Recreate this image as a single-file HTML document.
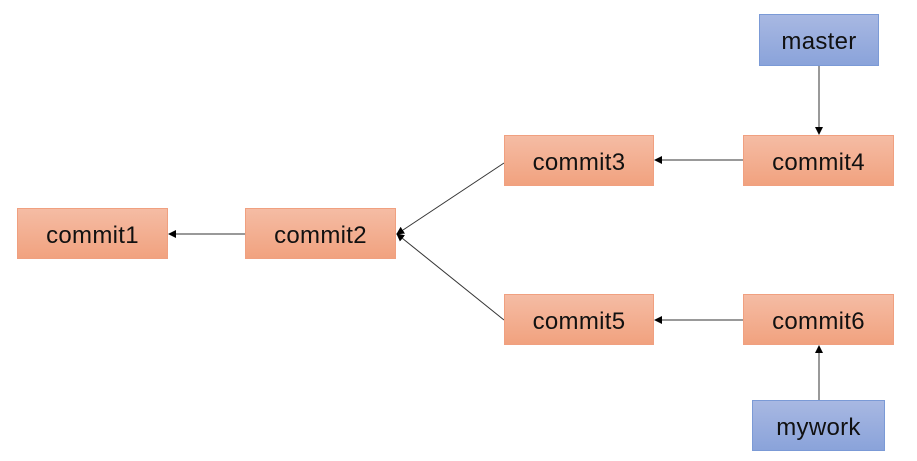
<!DOCTYPE html>
<html><head><meta charset="utf-8"><style>
body{margin:0;width:917px;height:461px;background:#fff;position:relative;overflow:hidden;font-family:"Liberation Sans",sans-serif}
.b{position:absolute;box-sizing:border-box;display:flex;align-items:center;justify-content:center;font-size:24px;color:#111;padding-top:4px;letter-spacing:0.3px}
.o{background:linear-gradient(#f5bca4,#f1a27f);border:1px solid #f0a080}
.u{background:linear-gradient(#a8b8e2,#8aa3da);border:1px solid #7b9ad6}
svg{position:absolute;left:0;top:0}
</style></head><body>
<svg width="917" height="461">
<defs><marker id="a" markerWidth="8" markerHeight="8" refX="7" refY="4" orient="auto" markerUnits="userSpaceOnUse"><path d="M0,0L8,4L0,8z" fill="#000"/></marker></defs>
<g stroke="#333" stroke-width="1" fill="none" marker-end="url(#a)">
<line x1="245" y1="234" x2="169" y2="234"/>
<line x1="504" y1="163" x2="397" y2="234"/>
<line x1="504" y1="320" x2="397" y2="234"/>
<line x1="743" y1="160" x2="655" y2="160"/>
<line x1="743" y1="320" x2="655" y2="320"/>
<line x1="819" y1="66" x2="819" y2="134"/>
<line x1="819" y1="400" x2="819" y2="346"/>
</g></svg>
<div class="b o" style="left:17px;top:208px;width:151px;height:51px">commit1</div>
<div class="b o" style="left:245px;top:208px;width:151px;height:51px">commit2</div>
<div class="b o" style="left:504px;top:135px;width:150px;height:51px">commit3</div>
<div class="b o" style="left:743px;top:135px;width:151px;height:51px">commit4</div>
<div class="b o" style="left:504px;top:294px;width:150px;height:51px">commit5</div>
<div class="b o" style="left:743px;top:294px;width:151px;height:51px">commit6</div>
<div class="b u" style="left:759px;top:14px;width:120px;height:52px">master</div>
<div class="b u" style="left:752px;top:400px;width:133px;height:51px">mywork</div>
</body></html>
